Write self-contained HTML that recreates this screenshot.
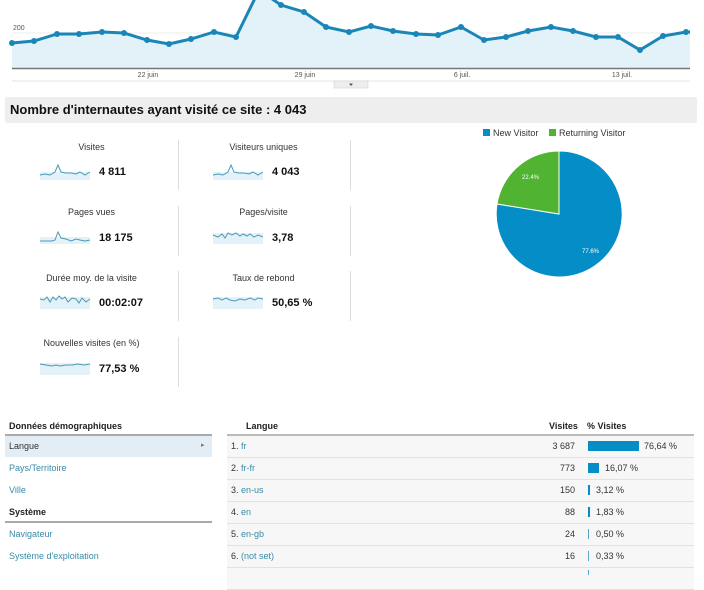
<!DOCTYPE html>
<html><head><meta charset="utf-8"><style>
body{margin:0;width:704px;height:575px;background:#fff;font-family:"Liberation Sans",sans-serif;position:relative;overflow:hidden;color:#222}
.a{position:absolute;white-space:nowrap}
.t{font-size:9px;color:#333;text-align:center;width:173px}
.v{font-size:11px;font-weight:bold;color:#111}
.l{font-size:9px;color:#3a8aa8}
.rw{position:absolute;left:227px;width:467px;height:21px;background:#f7f7f7;border-bottom:1px solid #e2e2e2}
</style></head><body>
<svg class="a" style="left:0;top:0" width="704" height="95">
<line x1="12" y1="33" x2="690" y2="33" stroke="#eee"/>
<text x="13" y="30" font-size="7" fill="#555" font-family="Liberation Sans">200</text>
<polygon fill="#e3f1f8" points="12,68 12,43 34,41 57,34 79,34 102,32 124,33 147,40 169,44 191,39 214,32 236,37 259,-10 281,5 304,12 326,27 349,32 371,26 393,31 416,34 438,35 461,27 484,40 506,37 528,31 551,27 573,31 596,37 618,37 640,50 663,36 686,32 690,32 690,68"/>
<polyline fill="none" stroke="#1a86b8" stroke-width="3" points="12,43 34,41 57,34 79,34 102,32 124,33 147,40 169,44 191,39 214,32 236,37 259,-10 281,5 304,12 326,27 349,32 371,26 393,31 416,34 438,35 461,27 484,40 506,37 528,31 551,27 573,31 596,37 618,37 640,50 663,36 686,32 690,32"/>
<g fill="#1a86b8"><circle cx="12" cy="43" r="3"/><circle cx="34" cy="41" r="3"/><circle cx="57" cy="34" r="3"/><circle cx="79" cy="34" r="3"/><circle cx="102" cy="32" r="3"/><circle cx="124" cy="33" r="3"/><circle cx="147" cy="40" r="3"/><circle cx="169" cy="44" r="3"/><circle cx="191" cy="39" r="3"/><circle cx="214" cy="32" r="3"/><circle cx="236" cy="37" r="3"/><circle cx="281" cy="5" r="3"/><circle cx="304" cy="12" r="3"/><circle cx="326" cy="27" r="3"/><circle cx="349" cy="32" r="3"/><circle cx="371" cy="26" r="3"/><circle cx="393" cy="31" r="3"/><circle cx="416" cy="34" r="3"/><circle cx="438" cy="35" r="3"/><circle cx="461" cy="27" r="3"/><circle cx="484" cy="40" r="3"/><circle cx="506" cy="37" r="3"/><circle cx="528" cy="31" r="3"/><circle cx="551" cy="27" r="3"/><circle cx="573" cy="31" r="3"/><circle cx="596" cy="37" r="3"/><circle cx="618" cy="37" r="3"/><circle cx="640" cy="50" r="3"/><circle cx="663" cy="36" r="3"/><circle cx="686" cy="32" r="3"/></g>
<line x1="12" y1="68.5" x2="690" y2="68.5" stroke="#777" stroke-width="1.5"/>
<line x1="12" y1="81" x2="690" y2="81" stroke="#e6e6e6"/>
<g font-size="7" fill="#555" font-family="Liberation Sans" text-anchor="middle"><text x="148" y="77">22 juin</text><text x="305" y="77">29 juin</text><text x="462" y="77">6 juil.</text><text x="622" y="77">13 juil.</text></g>
<rect x="334" y="81" width="34" height="7" fill="#eee" stroke="#ccc" stroke-width="0.5"/>
<path d="M349 83.5 L353 83.5 L351 86Z" fill="#555"/>
</svg>
<div class="a" style="left:5px;top:97px;width:692px;height:26px;background:#eee;border-radius:2px"></div>
<div class="a" style="left:10px;top:102px;font-size:13px;font-weight:bold;color:#111">Nombre d'internautes ayant visité ce site : 4 043</div>

<div class="a" style="left:178px;top:140px;width:1px;height:50px;background:#ddd"></div>
<div class="a" style="left:350px;top:140px;width:1px;height:50px;background:#ddd"></div>
<div class="a" style="left:178px;top:206px;width:1px;height:50px;background:#ddd"></div>
<div class="a" style="left:350px;top:206px;width:1px;height:50px;background:#ddd"></div>
<div class="a" style="left:178px;top:271px;width:1px;height:50px;background:#ddd"></div>
<div class="a" style="left:350px;top:271px;width:1px;height:50px;background:#ddd"></div>
<div class="a" style="left:178px;top:337px;width:1px;height:50px;background:#ddd"></div>

<div class="a t" style="left:5px;top:142px">Visites</div>
<div class="a t" style="left:177px;top:142px">Visiteurs uniques</div>
<div class="a t" style="left:5px;top:207px">Pages vues</div>
<div class="a t" style="left:177px;top:207px">Pages/visite</div>
<div class="a t" style="left:5px;top:273px">Durée moy. de la visite</div>
<div class="a t" style="left:177px;top:273px">Taux de rebond</div>
<div class="a t" style="left:5px;top:338px">Nouvelles visites (en %)</div>
<div class="a v" style="left:99px;top:166px">4 811</div>
<div class="a v" style="left:272px;top:166px">4 043</div>
<div class="a v" style="left:99px;top:232px">18 175</div>
<div class="a v" style="left:272px;top:232px">3,78</div>
<div class="a v" style="left:99px;top:297px">00:02:07</div>
<div class="a v" style="left:272px;top:297px">50,65 %</div>
<div class="a v" style="left:99px;top:363px">77,53 %</div>

<svg class="a" style="left:0;top:0" width="360" height="400" fill="none" stroke="#4a9ab8" stroke-width="1">
<g fill="#e3f1f8" stroke="none"><rect x="40" y="172" width="50" height="8"/><rect x="213" y="172" width="50" height="8"/><rect x="40" y="237" width="50" height="7"/><rect x="213" y="233" width="50" height="11"/><rect x="40" y="297" width="50" height="12"/><rect x="213" y="297" width="50" height="12"/><rect x="40" y="363" width="50" height="12"/></g>
<polyline points="40,175 45,174 50,175 55,172 58,165 61,172 66,173 71,173 76,174 80,172 85,175 90,172"/>
<polyline points="213,175 218,174 223,175 228,172 231,165 234,172 239,173 244,173 249,174 253,172 258,175 263,172"/>
<polyline points="40,241 46,241 52,241 55,240 58,232 61,238 66,239 71,241 76,239 80,240 85,241 90,240"/>
<polyline points="213,235 218,237 222,234 225,238 228,233 232,235 236,233 240,236 243,234 247,236 250,234 254,237 258,235 263,237"/>
<polyline points="40,299 44,300 47,297 50,302 53,297 56,300 59,296 62,299 65,297 68,302 72,298 76,299 79,303 82,298 86,302 90,299"/>
<polyline points="213,299 218,298 222,300 226,298 230,300 235,301 240,299 245,300 250,298 255,300 258,298 263,299"/>
<polyline points="40,364 46,365 52,366 56,365 60,366 66,365 72,365 78,364 84,365 90,364"/>
</svg>

<svg class="a" style="left:470px;top:120px" width="200" height="170">
<rect x="13" y="9" width="7" height="7" fill="#058dc7"/>
<text x="23" y="16" font-size="9" fill="#333" font-family="Liberation Sans">New Visitor</text>
<rect x="79" y="9" width="7" height="7" fill="#50b432"/>
<text x="89" y="16" font-size="9" fill="#333" font-family="Liberation Sans">Returning Visitor</text>
<path d="M89 94 L89 31 A63 63 0 1 1 27 84 Z" fill="#058dc7" stroke="#fff"/>
<path d="M89 94 L27 84 A63 63 0 0 1 89 31 Z" fill="#50b432" stroke="#fff"/>
<text x="52" y="59" font-size="6" fill="#fff" font-family="Liberation Sans">22.4%</text>
<text x="112" y="133" font-size="6" fill="#fff" font-family="Liberation Sans">77.6%</text>
</svg>

<div class="a" style="left:9px;top:421px;font-size:9px;font-weight:bold">Données démographiques</div>
<div class="a" style="left:5px;top:434px;width:207px;height:2px;background:#aaa"></div>
<div class="a" style="left:5px;top:436px;width:207px;height:21px;background:#e2edf5"></div>
<div class="a" style="left:9px;top:441px;font-size:9px;color:#333">Langue</div>
<div class="a" style="left:201px;top:441px;font-size:7px;color:#777">▸</div>
<div class="a l" style="left:9px;top:463px">Pays/Territoire</div>
<div class="a l" style="left:9px;top:485px">Ville</div>
<div class="a" style="left:9px;top:507px;font-size:9px;font-weight:bold">Système</div>
<div class="a" style="left:5px;top:521px;width:207px;height:2px;background:#aaa"></div>
<div class="a l" style="left:9px;top:529px">Navigateur</div>
<div class="a l" style="left:9px;top:551px">Système d'exploitation</div>

<div class="a" style="left:246px;top:421px;font-size:9px;font-weight:bold">Langue</div>
<div class="a" style="left:549px;top:421px;font-size:9px;font-weight:bold">Visites</div>
<div class="a" style="left:587px;top:421px;font-size:9px;font-weight:bold">% Visites</div>
<div class="a" style="left:227px;top:434px;width:467px;height:2px;background:#bbb"></div>
<div class="rw" style="top:436px"></div><div class="rw" style="top:458px"></div><div class="rw" style="top:480px"></div><div class="rw" style="top:502px"></div><div class="rw" style="top:524px"></div><div class="rw" style="top:546px"></div><div class="rw" style="top:568px"></div>

<div class="a" style="left:231px;top:441px;font-size:9px;color:#333">1. <span style="color:#3a8aa8">fr</span></div>
<div class="a" style="left:231px;top:463px;font-size:9px;color:#333">2. <span style="color:#3a8aa8">fr-fr</span></div>
<div class="a" style="left:231px;top:485px;font-size:9px;color:#333">3. <span style="color:#3a8aa8">en-us</span></div>
<div class="a" style="left:231px;top:507px;font-size:9px;color:#333">4. <span style="color:#3a8aa8">en</span></div>
<div class="a" style="left:231px;top:529px;font-size:9px;color:#333">5. <span style="color:#3a8aa8">en-gb</span></div>
<div class="a" style="left:231px;top:551px;font-size:9px;color:#333">6. <span style="color:#3a8aa8">(not set)</span></div>

<div class="a" style="left:520px;width:55px;text-align:right;top:441px;font-size:9px;color:#333">3 687</div>
<div class="a" style="left:520px;width:55px;text-align:right;top:463px;font-size:9px;color:#333">773</div>
<div class="a" style="left:520px;width:55px;text-align:right;top:485px;font-size:9px;color:#333">150</div>
<div class="a" style="left:520px;width:55px;text-align:right;top:507px;font-size:9px;color:#333">88</div>
<div class="a" style="left:520px;width:55px;text-align:right;top:529px;font-size:9px;color:#333">24</div>
<div class="a" style="left:520px;width:55px;text-align:right;top:551px;font-size:9px;color:#333">16</div>

<div class="a" style="left:588px;top:441px;width:51px;height:10px;background:#058dc7"></div>
<div class="a" style="left:588px;top:463px;width:11px;height:10px;background:#058dc7"></div>
<div class="a" style="left:588px;top:485px;width:2px;height:10px;background:#058dc7"></div>
<div class="a" style="left:588px;top:507px;width:2px;height:10px;background:#058dc7"></div>
<div class="a" style="left:588px;top:529px;width:1px;height:10px;background:#5aaad0"></div>
<div class="a" style="left:588px;top:551px;width:1px;height:10px;background:#5aaad0"></div>
<div class="a" style="left:588px;top:570px;width:1px;height:5px;background:#5aaad0"></div>
<div class="a" style="left:644px;top:441px;font-size:9px;color:#333">76,64 %</div>
<div class="a" style="left:605px;top:463px;font-size:9px;color:#333">16,07 %</div>
<div class="a" style="left:596px;top:485px;font-size:9px;color:#333">3,12 %</div>
<div class="a" style="left:596px;top:507px;font-size:9px;color:#333">1,83 %</div>
<div class="a" style="left:596px;top:529px;font-size:9px;color:#333">0,50 %</div>
<div class="a" style="left:596px;top:551px;font-size:9px;color:#333">0,33 %</div>
</body></html>
